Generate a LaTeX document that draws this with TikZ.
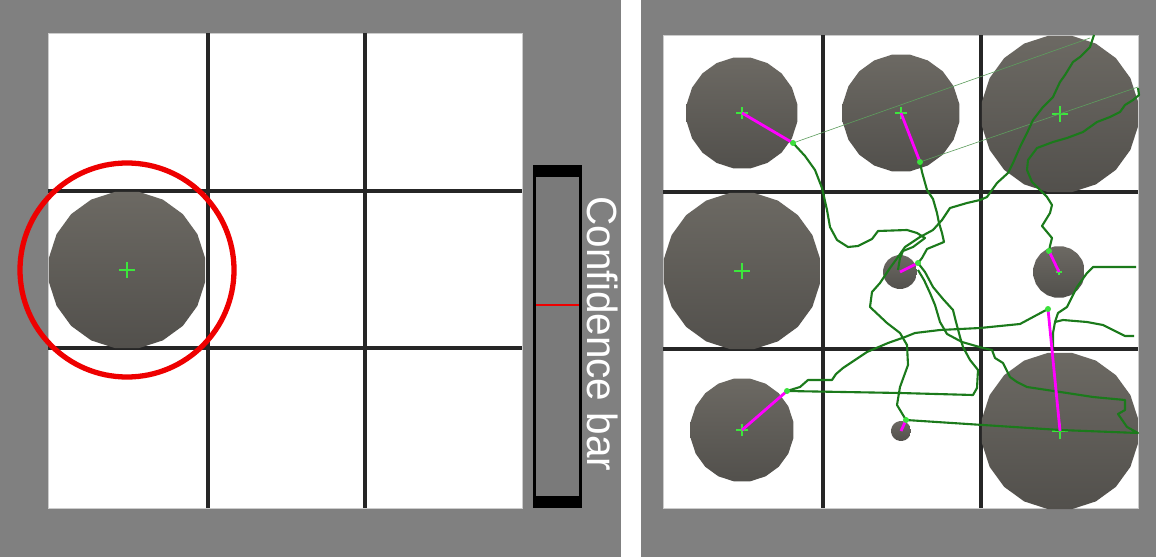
\documentclass[tikz,border=0pt]{standalone}
\usepackage{fontspec}
\setmainfont{Liberation Sans}
\usepackage{xcolor}
\usepackage{tikz}
\usetikzlibrary{calc,positioning,shapes.geometric}
\definecolor{bgc}{HTML}{808080}
\definecolor{gridc}{HTML}{262626}
\definecolor{obtop}{HTML}{6C6963}
\definecolor{obbot}{HTML}{52504C}
\definecolor{trkc}{HTML}{1B7A1B}
\definecolor{faintc}{HTML}{5E9E5E}
\definecolor{dotc}{HTML}{3CE03C}
\definecolor{crossc}{HTML}{3CE63C}
\definecolor{magc}{HTML}{FF00FF}
\definecolor{redc}{HTML}{EE0000}
\definecolor{barc}{HTML}{7A7A7A}
\tikzset{
  gridln/.style={line width=2pt,gridc},
  obst/.style={regular polygon,regular polygon sides=20,inner sep=0pt,top color=obtop,bottom color=obbot,draw=none},
  crs/.style={line width=1.1pt,crossc},
  link/.style={line width=1.6pt,magc},
  trk/.style={line width=1.2pt,trkc,line join=round},
  faint/.style={line width=0.35pt,faintc},
  dt/.style={circle,fill=dotc,inner sep=0pt,minimum size=1.2mm}
}
\begin{document}
\begin{tikzpicture}[x=0.02cm,y=-0.02cm]
\useasboundingbox (0,0) rectangle (1156,557);
\fill[bgc] (0,0) rectangle (1156,557);
\fill[white] (621,0) rectangle (641,557);
\draw[white,fill=white,draw=gray!40] (48,33) rectangle (522,508);
\draw[white,fill=white,draw=gray!40] (663,35) rectangle (1138,508);
\foreach \q in {208,365}{\draw[gridln] (\q,33)--(\q,508);}
\foreach \q in {191,348}{\draw[gridln] (48,\q)--(522,\q);}
\foreach \q in {823,981}{\draw[gridln] (\q,35)--(\q,508);}
\foreach \q in {192,349}{\draw[gridln] (663,\q)--(1138,\q);}
\foreach \n/\cx/\cy/\r in {ol/127/270/79,o1/742/113/56,o2/901/113/59,o3/1060/114/79,o4/742/271/79,o5/900/272/17,o6/1059/272/26,o7/742/430/52,o8/901/431/10,o9/1060/431/79}
  {\node[obst,minimum size=2*\r*0.02cm] (\n) at (\cx,\cy) {};}
\foreach \n/\h in {ol/8,o1/6,o2/6,o3/8,o4/8,o6/3,o7/6,o9/8}
  {\draw[crs] ($(\n.center)+(-\h,0)$)--($(\n.center)+(\h,0)$) ($(\n.center)+(0,-\h)$)--($(\n.center)+(0,\h)$);}
\draw[redc,line width=3pt] (ol.center) circle (107);
\fill[black] (533,165) rectangle (582,508);
\fill[barc] (536,177) rectangle (579,496);
\draw[redc,line width=1pt] (536,305)--(579,305);
\node[rotate=-90,white,inner sep=0pt,font=\fontsize{24}{26}\selectfont] (barlbl) at (603,334) {\scalebox{0.96}[1]{Confidence bar}};
\foreach \n/\px/\py in {d1/793/143,d2/920/162,d5/918/263,d6/1049/251,d7/787/391,d8/906/420,d9/1048/309}
  {\coordinate (\n) at (\px,\py);}
\draw[faint] (d1)--(1090,38);
\draw[faint] (d2)--(1138,87);
\draw[trk] (d1)--(805,156)--(815,170)--(822,188)--(827,210)--(830,227)--(837,240)--(848,247)--(858,246)--(872,239)--(878,231)--(907,230)--(917,233)--(925,238)--(913,247)--(903,251)--(900,258)--(898,270);
\draw[trk] (d2)--(922,172)--(927,190)--(933,199)--(937,213)--(939,223)--(942,233)--(944,242)--(927,249)--(922,258)--(d5);
\draw[trk] (1094,35)--(1090,47)--(1080,57)--(1073,62)--(1065,75)--(1060,82)--(1053,97)--(1043,107)--(1033,120)--(1027,133)--(1020,147)--(1013,163)--(1008,173)--(997,183)--(987,197)--(980,200)--(967,203)--(950,208)--(942,220)--(933,230)--(920,237)--(905,247)--(898,257)--(890,268)--(880,283)--(872,292)--(870,307)--(887,323)--(900,333)--(907,345)--(908,365)--(900,387)--(897,405)--(d8);
\draw[trk] (1138,88)--(1139,95)--(1133,100)--(1125,105)--(1120,112)--(1110,117)--(1097,122)--(1083,132)--(1067,138)--(1053,142)--(1037,148)--(1028,160)--(1027,170)--(1032,182)--(1040,190)--(1047,197)--(1052,205)--(1050,213)--(1042,226)--(1047,232)--(1052,238)--(1050,246)--(d6);
\draw[trk] (1136,267)--(1093,267)--(1087,273)--(1077,287)--(1073,295)--(1067,307)--(1058,313)--(1055,322)--(1053,333)--(1053,347);
\draw[trk] (1055,322)--(1063,320)--(1087,322)--(1103,325)--(1125,336)--(1134,336);
\draw[trk] (d9)--(1020,324)--(980,328)--(940,330)--(915,333)--(905,337)--(888,343)--(867,352)--(843,368)--(836,374)--(832,380)--(808,380)--(800,387)--(d7);
\draw[trk] (d7)--(900,393)--(973,395)--(977,388)--(978,370)--(970,360)--(963,347)--(960,337)--(956,322)--(953,310)--(943,299)--(933,287)--(925,272)--(d5);
\draw[trk] (d8)--(1060,430)--(1138,433)--(1127,427)--(1118,414)--(1125,410)--(1125,400)--(1093,397)--(1067,393)--(1027,387)--(1017,382)--(1010,377)--(1003,363)--(995,358)--(992,350)--(983,348)--(962,342)--(947,334)--(940,322)--(935,305)--(930,293)--(924,280)--(918,270);
\foreach \o/\d in {o1/d1,o2/d2,o5/d5,o6/d6,o7/d7,o8/d8,o9/d9}{\draw[link] (\o.center)--(\d);}
\foreach \d in {d1,d2,d5,d6,d7,d8,d9}{\node[dt] (\d-m) at (\d) {};}
\end{tikzpicture}
\end{document}
